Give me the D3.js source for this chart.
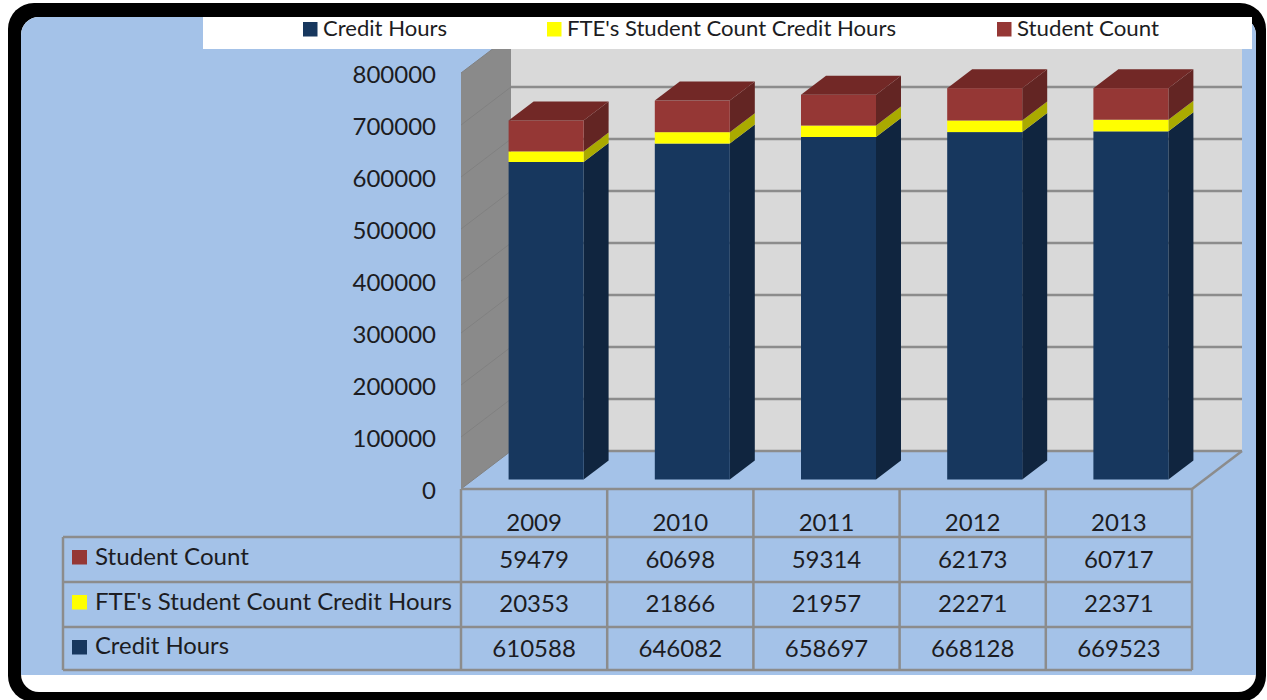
<!DOCTYPE html>
<html>
<head>
<meta charset="utf-8">
<script src="https://cdn.jsdelivr.net/npm/d3@7"></script>
<style>
html,body{margin:0;padding:0;background:#fff;overflow:hidden}
svg{display:block}
text{font-family:Lato,"Noto Sans",sans-serif;fill:#1c1c22}
</style>
</head>
<body>
<svg id="c" width="1267" height="700"></svg>
<script>
const years = ["2009","2010","2011","2012","2013"];
const creditHours = [610588,646082,658697,668128,669523];
const fteCounts = [20353,21866,21957,22271,22371];
const studentCount = [59479,60698,59314,62173,60717];
const yTicks = [0,100000,200000,300000,400000,500000,600000,700000,800000];
const seriesNames = ["Credit Hours","FTE's Student Count Credit Hours","Student Count"];

const colors = {
  "Credit Hours":{front:"#17375e",side:"#10253f",top:"#10253f"},
  "FTE's Student Count Credit Hours":{front:"#ffff00",side:"#aaaa00",top:"#aaaa00"},
  "Student Count":{front:"#953735",side:"#632523",top:"#722826"}
};
const seriesValues = [creditHours,fteCounts,studentCount];
const BLUE="#a4c2e8", GRID="#8c8c8c";

const svg=d3.select("#c");
const x=d3.scaleBand().domain(years).range([460.5,1191.5]).paddingInner(.487).paddingOuter(.2435);
const y=d3.scaleLinear().domain([0,800000]).range([489,73]);
const DX=50,DY=38;
const off=d=>[DX*d,-DY*d];
const poly=pts=>d3.line()(pts)+"Z";

// frame
svg.append("rect").attr("x",8).attr("y",3).attr("width",1258).attr("height",699).attr("rx",26).attr("fill","#000");
svg.append("clipPath").attr("id","inner").append("rect").attr("x",21).attr("y",17).attr("width",1235).attr("height",675).attr("rx",18);
const inner=svg.append("g").attr("clip-path","url(#inner)");
inner.append("rect").attr("x",21).attr("y",17).attr("width",1235).attr("height",675).attr("fill","#fff");
inner.append("rect").attr("x",21).attr("y",17).attr("width",1235).attr("height",658).attr("fill",BLUE);

const plot=svg.append("g");
// back wall
const [bx,by]=off(1);
plot.append("path").attr("d",poly([[461+bx,y(800000)+by],[1192+bx,y(800000)+by],[1192+bx,y(0)+by],[461+bx,y(0)+by]])).attr("fill","#d9d9d9");
// side wall
plot.append("path").attr("d",poly([[461,y(0)],[461,y(800000)],[461+bx,y(800000)+by],[461+bx,y(0)+by]])).attr("fill","#8a8a8a");
// grid lines
yTicks.forEach(t=>{
  plot.append("line").attr("x1",461+bx).attr("x2",1192+bx).attr("y1",y(t)+by).attr("y2",y(t)+by)
    .attr("stroke",GRID).attr("stroke-width",2.5);
  plot.append("line").attr("x1",461).attr("x2",461+bx).attr("y1",y(t)).attr("y2",y(t)+by)
    .attr("stroke","#808080").attr("stroke-width",1);
});
// floor right edge
plot.append("line").attr("x1",1192).attr("y1",y(0)).attr("x2",1192+bx).attr("y2",y(0)+by).attr("stroke",GRID).attr("stroke-width",2.5);

// bars
const [f0x,f0y]=off(.25),[f1x,f1y]=off(.75);
years.forEach((yr,i)=>{
  let acc=0;
  const g=plot.append("g");
  const xl=x(yr)+f0x, xr=xl+x.bandwidth();
  const sdx=f1x-f0x, sdy=f1y-f0y;
  seriesValues.forEach((vals,s)=>{
    const c=colors[seriesNames[s]];
    const lo=y(acc)+f0y, hi=y(acc+vals[i])+f0y;
    g.append("path").attr("d",poly([[xr,lo],[xr+sdx,lo+sdy],[xr+sdx,hi+sdy],[xr,hi]])).attr("fill",c.side);
    g.append("rect").attr("x",xl).attr("y",hi).attr("width",xr-xl).attr("height",lo-hi).attr("fill",c.front);
    acc+=vals[i];
    if(s===seriesValues.length-1)
      g.append("path").attr("d",poly([[xl,hi],[xl+sdx,hi+sdy],[xr+sdx,hi+sdy],[xr,hi]])).attr("fill",c.top);
  });
});

// y axis
const axis=svg.append("g").attr("transform","translate(436,0)")
  .call(d3.axisLeft(y).tickValues(yTicks).tickSize(0).tickPadding(0).tickFormat(d3.format("d")));
axis.select(".domain").remove();
axis.selectAll("text").attr("font-size",24).attr("dy",null).attr("y",9)
  .style("font-family","Lato").style("fill","#1c1c22");

// data table
const colX=[461].concat(years.map((d,i)=>461+(i+1)*146.2));
const rowY=[537,582,627,670];
const T=svg.append("g").attr("stroke",GRID).attr("stroke-width",2.5);
T.append("line").attr("x1",461).attr("x2",1192).attr("y1",489).attr("y2",489);
rowY.forEach(r=>T.append("line").attr("x1",63).attr("x2",1192).attr("y1",r).attr("y2",r));
T.append("line").attr("x1",63).attr("x2",63).attr("y1",537).attr("y2",670);
colX.forEach(c=>T.append("line").attr("x1",c).attr("x2",c).attr("y1",489).attr("y2",670));

years.forEach((yr,i)=>{
  svg.append("text").attr("x",(colX[i]+colX[i+1])/2).attr("y",531).attr("text-anchor","middle").attr("font-size",24).text(yr);
});
const rows=[2,1,0];
const labelBase=[565,610,654], valueBase=[568,612,657], swY=[550,595,640];
rows.forEach((s,r)=>{
  svg.append("rect").attr("x",72).attr("y",swY[r]).attr("width",15).attr("height",14.5).attr("fill",colors[seriesNames[s]].front);
  const lab=svg.append("text").attr("x",95).attr("y",labelBase[r]).attr("font-size",23).text(seriesNames[s]);
  if(s===1) lab.attr("textLength",357).attr("lengthAdjust","spacingAndGlyphs");
  if(s===2) lab.attr("textLength",154).attr("lengthAdjust","spacingAndGlyphs");
  if(s===0) lab.attr("textLength",134).attr("lengthAdjust","spacingAndGlyphs");
  seriesValues[s].forEach((v,i)=>{
    svg.append("text").attr("x",(colX[i]+colX[i+1])/2).attr("y",valueBase[r]).attr("text-anchor","middle").attr("font-size",24).text(v);
  });
});

// legend
svg.append("rect").attr("x",203).attr("y",17).attr("width",1049).attr("height",32).attr("fill","#fff");
const legX=[303,547,997], legW=[124,329,142];
seriesNames.forEach((n,i)=>{
  svg.append("rect").attr("x",legX[i]).attr("y",22).attr("width",14.5).attr("height",14.5).attr("fill",colors[n].front);
  svg.append("text").attr("x",legX[i]+20).attr("y",36).attr("font-size",22)
    .attr("textLength",legW[i]).attr("lengthAdjust","spacingAndGlyphs").text(n);
});
</script>
</body>
</html>
